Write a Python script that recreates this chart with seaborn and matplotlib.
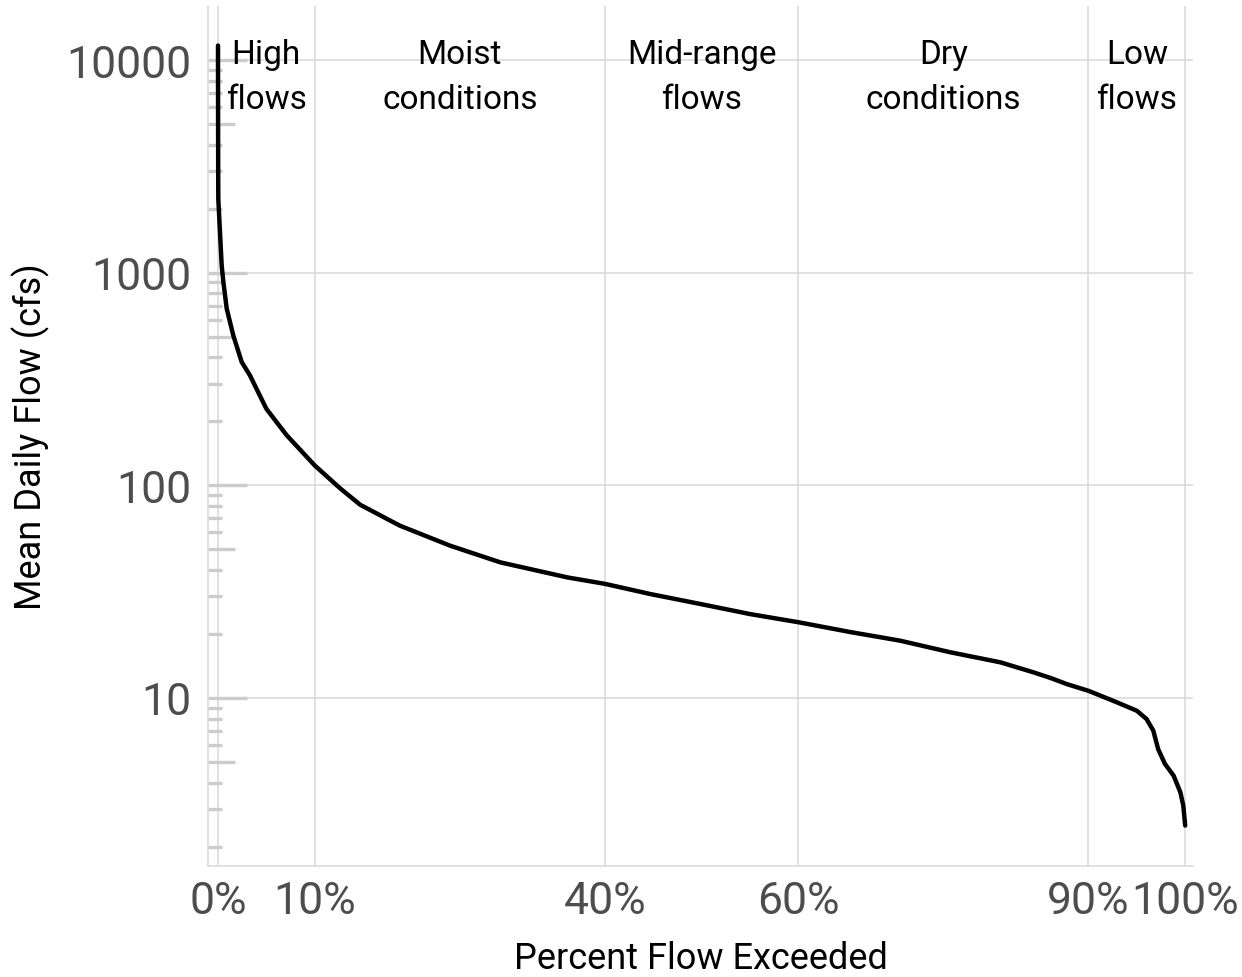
import numpy as np
import pandas as pd
import seaborn as sns
import matplotlib.pyplot as plt
from matplotlib.ticker import PercentFormatter, FixedLocator, NullLocator

# flow duration curve
pct = [0, 0.01, 0.02, 0.03, 0.38, 0.55, 0.9, 1.58, 2.45, 3.3, 5.0, 7.1, 10.0,
       12.6, 14.7, 18.8, 24.0, 29.2, 36.1, 40.0, 44.7, 49.8, 55.0, 60.0, 65.4,
       70.5, 75.7, 80.9, 84.3, 86.1, 87.8, 90.0, 92.9, 95.0, 96.0, 96.7, 97.2,
       97.9, 98.8, 99.5, 99.8, 100]
flow = [11700, 5000, 3000, 2230, 1083, 908, 678, 507, 380, 329, 229, 172, 124,
        97, 81, 64.6, 52, 43.4, 36.9, 34.4, 30.8, 27.7, 24.8, 22.7, 20.4,
        18.6, 16.4, 14.7, 13.2, 12.4, 11.6, 10.8, 9.55, 8.7, 7.96, 7.02, 5.75,
        4.9, 4.31, 3.6, 3.12, 2.51]

x_breaks = [0, 10, 40, 60, 90, 100]
y_breaks = [10, 100, 1000, 10000]

zone_labels = ["High\nflows", "Moist\nconditions", "Mid-range\nflows",
               "Dry\nconditions", "Low\nflows"]
zone_centers = [5, 25, 50, 75, 95]

df = pd.DataFrame({'pct': pct, 'flow': flow})

sns.set_style('white')
plt.rcParams['font.family'] = ['Roboto', 'DejaVu Sans']

fig, ax = plt.subplots(figsize=(12.42, 9.78), dpi=100)
fig.subplots_adjust(left=0.1675, right=0.9605, bottom=0.1135, top=0.9928)

ax.set_yscale('log')
sns.lineplot(data=df, x='pct', y='flow', color='black', lw=3.2, ax=ax,
             zorder=3)

ax.set_xlim(-1.03, 100.8)
ax.set_ylim(1.62, 17950)

ax.xaxis.set_major_locator(FixedLocator(x_breaks))
ax.xaxis.set_major_formatter(PercentFormatter(xmax=100, decimals=0))
ax.yaxis.set_major_locator(FixedLocator(y_breaks))
ax.set_yticklabels([str(v) for v in y_breaks])
ax.yaxis.set_minor_locator(NullLocator())
ax.tick_params(axis='both', length=0, labelsize=32, labelcolor='#4d4d4d')
ax.tick_params(axis='x', pad=10)
ax.tick_params(axis='y', pad=12)

ax.grid(True, which='major', color='#d9d9d9', lw=1.1)
ax.set_axisbelow(True)
for side in ['top', 'right']:
    ax.spines[side].set_visible(False)
for side in ['left', 'bottom']:
    ax.spines[side].set_color('#d9d9d9')
    ax.spines[side].set_linewidth(1.1)

# log tick marks along the left edge
ytrans = ax.get_yaxis_transform()
for d in range(0, 5):
    for k in range(1, 10):
        v = k * 10 ** d
        if v < 2 or v > 10000:
            continue
        if k == 1:
            L = 39 / 985
        elif k == 5:
            L = 27 / 985
        else:
            L = 14 / 985
        ax.plot([0, L], [v, v], transform=ytrans, color='#cccccc', lw=2.4,
                solid_capstyle='butt', zorder=2)

xtrans = ax.get_xaxis_transform()
for lab, xc in zip(zone_labels, zone_centers):
    ax.text(xc, 0.918, lab, transform=xtrans, ha='center', va='center',
            fontsize=24, color='black', linespacing=1.53, zorder=4)

ax.set_xlabel('Percent Flow Exceeded', fontsize=26, color='black', labelpad=13)
ax.set_ylabel('Mean Daily Flow (cfs)', fontsize=26, color='black', labelpad=12)

fig.savefig('out.png', dpi=100)
